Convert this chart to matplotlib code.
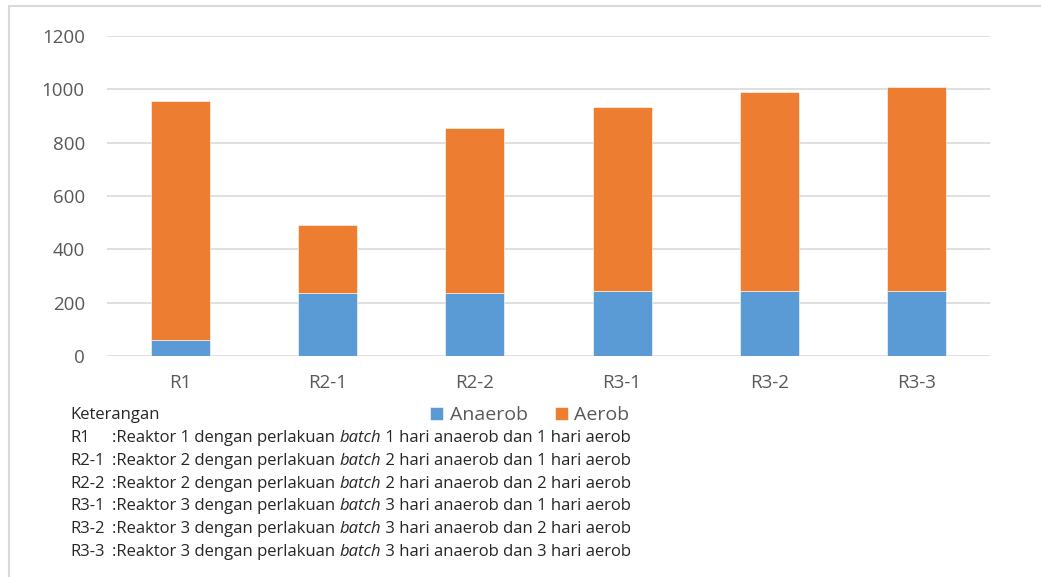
import matplotlib.pyplot as plt
from matplotlib.patches import Rectangle

# data per reactor
categories = ["R1", "R2-1", "R2-2", "R3-1", "R3-2", "R3-3"]
anaerob = [60, 238, 237, 242, 242, 242]
aerob = [896, 252, 618, 690, 748, 768]

keterangan = [
    ("R1", "1", "1", "1"),
    ("R2-1", "2", "2", "1"),
    ("R2-2", "2", "2", "2"),
    ("R3-1", "3", "3", "1"),
    ("R3-2", "3", "3", "2"),
    ("R3-3", "3", "3", "3"),
]

BLUE = "#5B9BD5"
ORANGE = "#ED7D31"
GREY = "#595959"
FONT = "Open Sans"

plt.rcParams["font.family"] = [FONT, "DejaVu Sans"]

W, H = 1041, 577
fig = plt.figure(figsize=(W / 100, H / 100), dpi=100)

def fx(px):
    return px / W

def fy(py):
    return 1 - py / H

# outer chart border
fig.patches.append(Rectangle((fx(9), fy(H + 5)), 1.1, (H + 5 - 6) / H,
                             transform=fig.transFigure, fill=False,
                             edgecolor="#D9D9D9", lw=1.5))

ax = fig.add_axes([fx(107), fy(356), fx(990) - fx(107), fy(36) - fy(356)])

x = range(len(categories))
ax.bar(x, anaerob, width=0.4, color=BLUE, label="Anaerob", zorder=3,
       edgecolor="white", linewidth=0.4)
ax.bar(x, aerob, width=0.4, bottom=anaerob, color=ORANGE, label="Aerob",
       zorder=3, edgecolor="white", linewidth=0.4)

ax.set_xlim(-0.5, len(categories) - 0.5)
ax.set_ylim(0, 1200)
ax.set_yticks(range(0, 1201, 200))
ax.set_xticks(list(x))
ax.set_xticklabels(categories)
ax.grid(axis="y", color="#D9D9D9", lw=1.2, zorder=0)
for s in ax.spines.values():
    s.set_visible(False)
ax.tick_params(axis="both", length=0, labelsize=13.5, colors=GREY)
ax.tick_params(axis="y", pad=16)
ax.tick_params(axis="x", pad=13)

fig.legend(loc="center", bbox_to_anchor=(fx(530), fy(415)), ncol=2,
           frameon=False, fontsize=14, labelcolor=GREY, handlelength=0.65,
           handleheight=0.65, handletextpad=0.35, columnspacing=1.4)

# explanation block under the chart
TXT = "#262626"
fs = 12
fig.text(fx(70), fy(415), "Keterangan", fontsize=fs, color=TXT, va="center")
for i, (code, r, a, b) in enumerate(keterangan):
    y = fy(438 + i * 22.8)
    fig.text(fx(70), y, code, fontsize=fs, color=TXT, va="center")
    t1 = fig.text(fx(112), y, f":Reaktor {r} dengan perlakuan ",
                  fontsize=fs, color=TXT, va="center")
    t2 = fig.text(0, 0, "batch", fontsize=fs, color=TXT, style="italic",
                  va="center")
    t3 = fig.text(0, 0, f" {a} hari anaerob dan {b} hari aerob",
                  fontsize=fs, color=TXT, va="center")
    fig.canvas.draw()
    r1 = fig.canvas.get_renderer()
    bb1 = t1.get_window_extent(r1)
    t2.set_position((bb1.x1 / W, y))
    fig.canvas.draw()
    bb2 = t2.get_window_extent(r1)
    t3.set_position((bb2.x1 / W, y))

fig.savefig("out.png", dpi=100)
